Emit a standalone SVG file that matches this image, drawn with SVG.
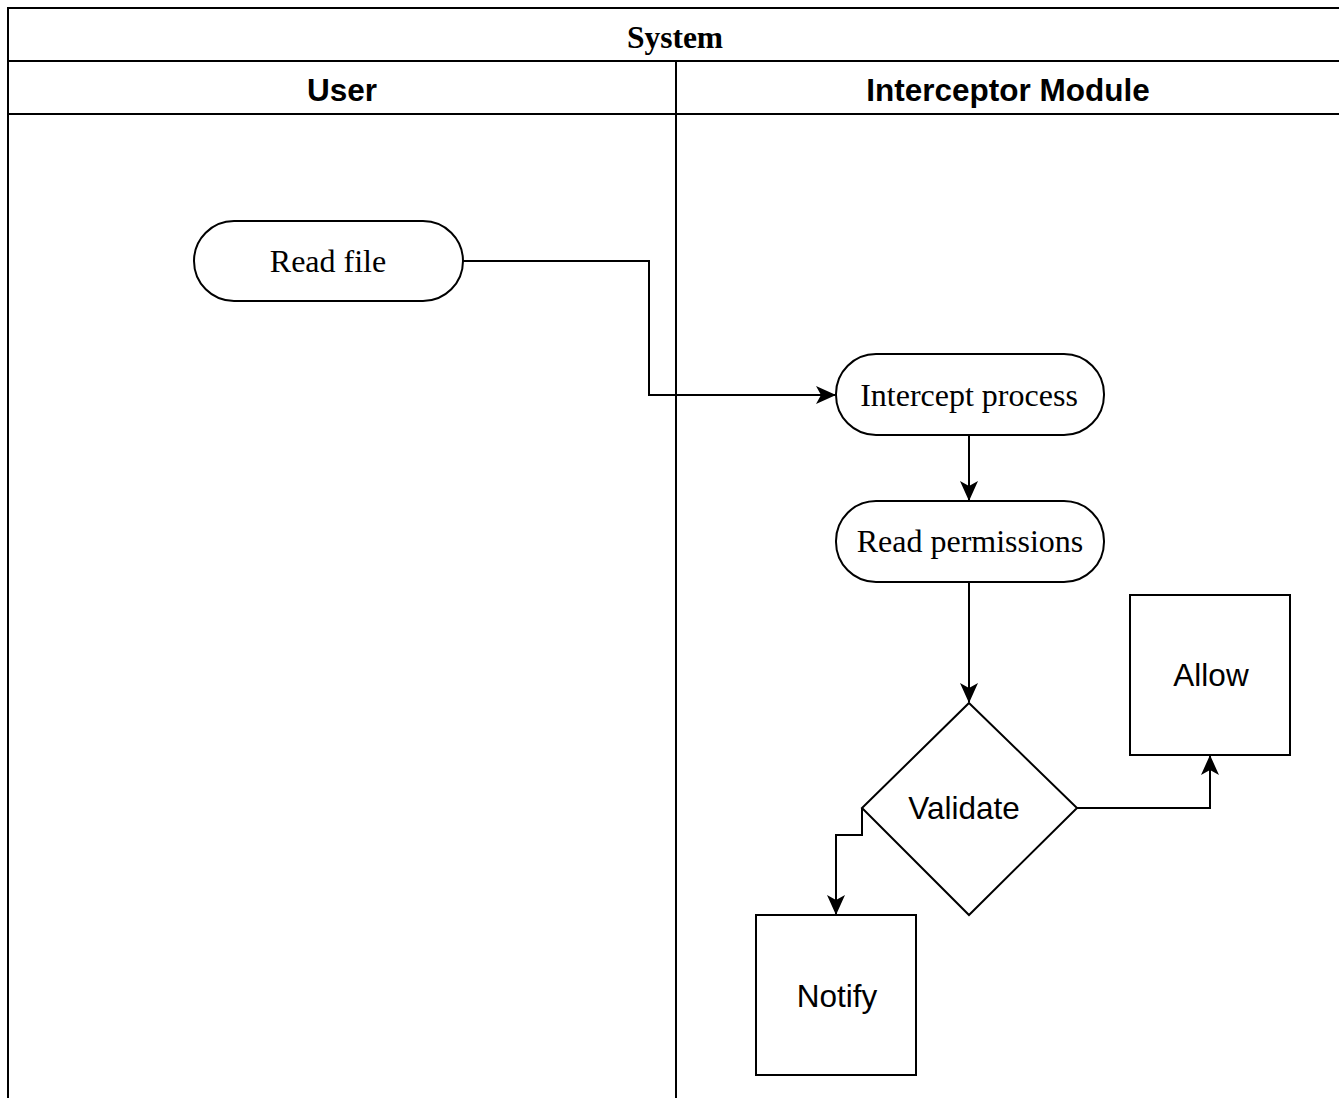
<svg xmlns="http://www.w3.org/2000/svg" width="1339" height="1098" viewBox="0 0 1339 1098">
  <style>
    .frame { fill: none; stroke: #000; stroke-width: 2; }
    .shape { fill: #fff; stroke: #000; stroke-width: 2; }
    .edge { fill: none; stroke: #000; stroke-width: 2; }
    .serif { font-family: "Liberation Serif", "Times New Roman", serif; font-size: 32px; fill: #000; }
    .sans { font-family: "Liberation Sans", Arial, sans-serif; font-size: 31.5px; fill: #000; }
    .head { font-family: "Liberation Sans", Arial, sans-serif; font-size: 31.5px; font-weight: bold; fill: #000; }
    .title { font-family: "Liberation Serif", "Times New Roman", serif; font-size: 31.5px; font-weight: bold; fill: #000; }
  </style>
  <defs>
    <marker id="arrow" viewBox="0 0 20 18" refX="19" refY="9" markerWidth="20" markerHeight="18" markerUnits="userSpaceOnUse" orient="auto">
      <path d="M0,0 L20,9 L0,18 L5,9 Z" fill="#000"/>
    </marker>
  </defs>
  <rect width="1339" height="1098" fill="#fff"/>

  <!-- pool and lanes -->
  <g id="pool">
    <path class="frame" d="M8,1098 L8,8 L1339,8"/>
    <line class="frame" x1="8" y1="61" x2="1339" y2="61"/>
    <line class="frame" x1="8" y1="114" x2="1339" y2="114"/>
    <line class="frame" x1="676" y1="61" x2="676" y2="1098"/>
    <text class="title" x="675" y="41" text-anchor="middle" dominant-baseline="middle">System</text>
    <text class="head" x="342" y="93" text-anchor="middle" dominant-baseline="middle">User</text>
    <text class="head" x="1008" y="93" text-anchor="middle" dominant-baseline="middle">Interceptor Module</text>
  </g>

  <!-- connectors -->
  <g id="connectors">
    <path class="edge" d="M463,261 L649,261 L649,395 L835,395" marker-end="url(#arrow)"/>
    <path class="edge" d="M969,435 L969,500" marker-end="url(#arrow)"/>
    <path class="edge" d="M969,582 L969,702" marker-end="url(#arrow)"/>
    <path class="edge" d="M1077,808 L1210,808 L1210,756" marker-end="url(#arrow)"/>
    <path class="edge" d="M862,808 L862,835 L836,835 L836,914" marker-end="url(#arrow)"/>
  </g>

  <g id="read-file">
    <rect class="shape" x="194" y="221" width="269" height="80" rx="40" ry="40"/>
    <text class="serif" x="328" y="265" text-anchor="middle" dominant-baseline="middle">Read file</text>
  </g>

  <g id="intercept-process">
    <rect class="shape" x="836" y="354" width="268" height="81" rx="40" ry="40"/>
    <text class="serif" x="969" y="399" text-anchor="middle" dominant-baseline="middle">Intercept process</text>
  </g>

  <g id="read-permissions">
    <rect class="shape" x="836" y="501" width="268" height="81" rx="40" ry="40"/>
    <text class="serif" x="970" y="545" text-anchor="middle" dominant-baseline="middle">Read permissions</text>
  </g>

  <g id="validate">
    <polygon class="shape" points="969,703 1077,808 969,915 862,808"/>
    <text class="sans" x="964" y="811" text-anchor="middle" dominant-baseline="middle">Validate</text>
  </g>

  <g id="allow">
    <rect class="shape" x="1130" y="595" width="160" height="160"/>
    <text class="sans" x="1211" y="678" text-anchor="middle" dominant-baseline="middle">Allow</text>
  </g>

  <g id="notify">
    <rect class="shape" x="756" y="915" width="160" height="160"/>
    <text class="sans" x="837" y="999" text-anchor="middle" dominant-baseline="middle">Notify</text>
  </g>
</svg>
